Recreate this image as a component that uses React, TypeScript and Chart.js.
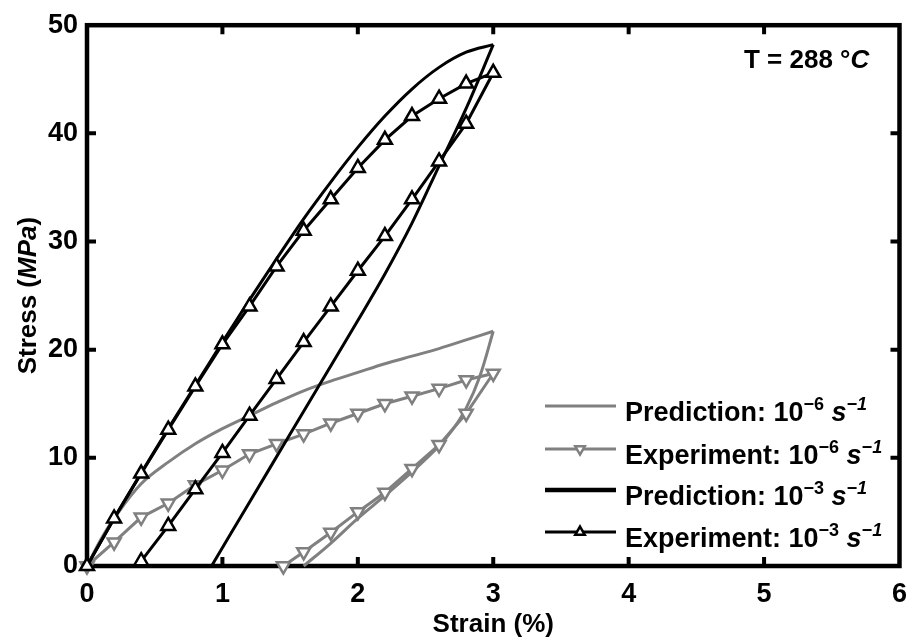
import React, { useEffect, useRef } from "react";
import { Chart, registerables } from "chart.js";

Chart.register(...registerables);

// ---------- data ----------
const xTickValues = [0, 1, 2, 3, 4, 5, 6];
const yTickValues = [0, 10, 20, 30, 40, 50];

// Prediction 10^-3 s^-1 (black)
const predFastLoadX = [0, 0.2, 0.4, 0.6, 0.8, 1.0, 1.2, 1.4, 1.6, 1.8, 2.0, 2.2, 2.4, 2.6, 2.8, 3.0];
const predFastLoadY = [0, 4.4, 8.6, 12.7, 16.7, 20.7, 24.6, 28.4, 32.1, 35.5, 38.7, 41.6, 44.1, 46.1, 47.5, 48.2];
const predFastUnloadX = [3.0, 2.8, 2.6, 2.4, 2.2, 2.0, 1.8, 1.5, 1.2, 0.92];
const predFastUnloadY = [48.2, 42.3, 37.0, 31.7, 27.0, 22.7, 18.5, 12.2, 5.9, 0];

// Experiment 10^-3 s^-1 (black, up triangles)
const expFastX = [0, 0.2, 0.4, 0.6, 0.8, 1.0, 1.2, 1.4, 1.6, 1.8, 2.0, 2.2, 2.4, 2.6, 2.8, 3.0,
  2.8, 2.6, 2.4, 2.2, 2.0, 1.8, 1.6, 1.4, 1.2, 1.0, 0.8, 0.6, 0.4];
const expFastY = [0, 4.4, 8.55, 12.6, 16.6, 20.5, 24.0, 27.7, 31.0, 33.9, 36.8, 39.4, 41.6, 43.2, 44.6, 45.6,
  40.9, 37.4, 33.9, 30.5, 27.3, 24.0, 20.7, 17.3, 13.9, 10.45, 7.1, 3.7, 0.45];

// Prediction 10^-6 s^-1 (gray)
const predSlowLoadX = [0, 0.1, 0.2, 0.4, 0.6, 0.8, 1.0, 1.2, 1.4, 1.6, 1.8, 2.0, 2.2, 2.4, 2.6, 2.8, 3.0];
const predSlowLoadY = [0, 2.4, 4.4, 7.6, 9.6, 11.3, 12.7, 13.9, 15.1, 16.2, 17.1, 17.9, 18.7, 19.4, 20.1, 20.9, 21.7];
const predSlowUnloadX = [3.0, 2.9, 2.8, 2.7, 2.6, 2.4, 2.2, 2.0, 1.8, 1.6];
const predSlowUnloadY = [21.7, 17.5, 14.6, 12.6, 11.1, 8.7, 6.5, 4.4, 2.1, 0];

// Experiment 10^-6 s^-1 (gray, down triangles)
const expSlowX = [0, 0.2, 0.4, 0.6, 0.8, 1.0, 1.2, 1.4, 1.6, 1.8, 2.0, 2.2, 2.4, 2.6, 2.8, 3.0,
  2.8, 2.6, 2.4, 2.2, 2.0, 1.8, 1.6, 1.45];
const expSlowY = [0, 2.2, 4.5, 5.8, 7.5, 8.85, 10.35, 11.3, 12.2, 13.2, 14.1, 15.0, 15.7, 16.4, 17.2, 17.8,
  14.1, 11.2, 9.0, 6.8, 5.0, 3.1, 1.3, 0];

const legendLabels = ["Prediction: 10", "Experiment: 10", "Prediction: 10", "Experiment: 10"];
const legendExponents = ["\u22126", "\u22126", "\u22123", "\u22123"];
const legendUnit = "s";
const legendUnitExponent = "\u22121";

const xTitle = "Strain (%)";
const yTitleParts = ["Stress (", "MPa", ")"];
const annotationParts = ["T = 288 \u00B0", "C"];

// ---------- styling ----------
const BLACK = "#000000";
const GRAY = "#808080";
const FAM = '"Liberation Sans", Arial, Helvetica, sans-serif';
const bold = (s: number) => `bold ${s}px ${FAM}`;
const boldItalic = (s: number) => `italic bold ${s}px ${FAM}`;

const toPts = (xs: number[], ys: number[]) => xs.map((x, i) => ({ x, y: ys[i] }));

type Run = { text: string; font: string; dy?: number };

function drawRuns(ctx: CanvasRenderingContext2D, runs: Run[], x: number, y: number, align: "left" | "center" = "left") {
  let total = 0;
  runs.forEach((r) => {
    ctx.font = r.font;
    total += ctx.measureText(r.text).width;
  });
  let cx = align === "center" ? x - total / 2 : x;
  ctx.textAlign = "left";
  ctx.textBaseline = "alphabetic";
  runs.forEach((r) => {
    ctx.font = r.font;
    ctx.fillText(r.text, cx, y + (r.dy || 0));
    cx += ctx.measureText(r.text).width;
  });
}

function triangle(ctx: CanvasRenderingContext2D, x: number, y: number, r: number, down: boolean) {
  const s = down ? -1 : 1;
  ctx.beginPath();
  ctx.moveTo(x, y - s * r);
  ctx.lineTo(x + r * Math.sin((2 * Math.PI) / 3), y - s * r * Math.cos((2 * Math.PI) / 3));
  ctx.lineTo(x - r * Math.sin((2 * Math.PI) / 3), y - s * r * Math.cos((2 * Math.PI) / 3));
  ctx.closePath();
  ctx.fillStyle = "#ffffff";
  ctx.fill();
  ctx.stroke();
}

const framePlugin = {
  id: "frameTicks",
  beforeDatasetsDraw(chart: any) {
    const { ctx, chartArea: a, scales } = chart;
    ctx.save();
    ctx.strokeStyle = BLACK;
    ctx.lineWidth = 4.5;
    ctx.strokeRect(a.left, a.top, a.right - a.left, a.bottom - a.top);
    ctx.lineWidth = 4;
    const tl = 9;
    xTickValues.slice(1, -1).forEach((v) => {
      const px = scales.x.getPixelForValue(v);
      ctx.beginPath();
      ctx.moveTo(px, a.bottom);
      ctx.lineTo(px, a.bottom - tl);
      ctx.moveTo(px, a.top);
      ctx.lineTo(px, a.top + tl);
      ctx.stroke();
    });
    yTickValues.slice(1, -1).forEach((v) => {
      const py = scales.y.getPixelForValue(v);
      ctx.beginPath();
      ctx.moveTo(a.left, py);
      ctx.lineTo(a.left + tl, py);
      ctx.moveTo(a.right, py);
      ctx.lineTo(a.right - tl, py);
      ctx.stroke();
    });
    ctx.restore();
  },
  afterDraw(chart: any) {
    const { ctx, chartArea: a } = chart;
    ctx.save();
    ctx.fillStyle = BLACK;

    // x title
    drawRuns(ctx, [{ text: xTitle, font: bold(26) }], (a.left + a.right) / 2, 632, "center");

    // y title
    ctx.save();
    ctx.translate(26, (a.top + a.bottom) / 2);
    ctx.rotate(-Math.PI / 2);
    drawRuns(
      ctx,
      [
        { text: yTitleParts[0], font: bold(26) },
        { text: yTitleParts[1], font: boldItalic(26) },
        { text: yTitleParts[2], font: bold(26) },
      ],
      0,
      10,
      "center"
    );
    ctx.restore();

    // annotation
    drawRuns(
      ctx,
      [
        { text: annotationParts[0], font: bold(26) },
        { text: annotationParts[1], font: boldItalic(26) },
      ],
      744,
      68
    );

    // legend
    const rowY = [406, 449, 490, 532];
    const colors = [GRAY, GRAY, BLACK, BLACK];
    const widths = [3, 3, 4.5, 3];
    const markers = [0, -1, 0, 1];
    legendLabels.forEach((lab, i) => {
      const y = rowY[i];
      ctx.strokeStyle = colors[i];
      ctx.lineWidth = widths[i];
      ctx.beginPath();
      ctx.moveTo(545, y);
      ctx.lineTo(616, y);
      ctx.stroke();
      if (markers[i] !== 0) {
        ctx.lineWidth = 2.5;
        triangle(ctx, 580, y, 5.5, markers[i] < 0);
      }
      ctx.fillStyle = BLACK;
      drawRuns(
        ctx,
        [
          { text: lab, font: bold(27) },
          { text: legendExponents[i], font: bold(18), dy: -11 },
          { text: " ", font: bold(27) },
          { text: legendUnit, font: boldItalic(27) },
          { text: legendUnitExponent, font: boldItalic(18), dy: -11 },
        ],
        625,
        y + 15
      );
    });
    ctx.restore();
  },
};

export default function App() {
  const canvasRef = useRef<HTMLCanvasElement | null>(null);

  useEffect(() => {
    document.body.style.margin = "0";
    const canvas = canvasRef.current;
    if (!canvas) return;

    const lineBase = { showLine: true, clip: false as any, fill: false };

    const chart = new Chart(canvas, {
      type: "scatter",
      data: {
        datasets: [
          {
            ...lineBase,
            label: "Experiment: 10^-3",
            data: toPts(expFastX, expFastY),
            borderColor: BLACK,
            borderWidth: 3,
            tension: 0,
            pointStyle: "triangle",
            pointRadius: 8,
            pointBorderWidth: 2.5,
            pointBorderColor: BLACK,
            pointBackgroundColor: "#ffffff",
          },
          {
            ...lineBase,
            label: "Prediction: 10^-3 load",
            data: toPts(predFastLoadX, predFastLoadY),
            borderColor: BLACK,
            borderWidth: 3,
            tension: 0.35,
            pointRadius: 0,
          },
          {
            ...lineBase,
            label: "Prediction: 10^-3 unload",
            data: toPts(predFastUnloadX, predFastUnloadY),
            borderColor: BLACK,
            borderWidth: 3,
            tension: 0.35,
            pointRadius: 0,
          },
          {
            ...lineBase,
            label: "Experiment: 10^-6",
            data: toPts(expSlowX, expSlowY),
            borderColor: GRAY,
            borderWidth: 3,
            tension: 0,
            pointStyle: "triangle",
            rotation: 180,
            pointRadius: 7.5,
            pointBorderWidth: 2.5,
            pointBorderColor: GRAY,
            pointBackgroundColor: "#ffffff",
          },
          {
            ...lineBase,
            label: "Prediction: 10^-6 load",
            data: toPts(predSlowLoadX, predSlowLoadY),
            borderColor: GRAY,
            borderWidth: 3,
            tension: 0.35,
            pointRadius: 0,
          },
          {
            ...lineBase,
            label: "Prediction: 10^-6 unload",
            data: toPts(predSlowUnloadX, predSlowUnloadY),
            borderColor: GRAY,
            borderWidth: 3,
            tension: 0.35,
            pointRadius: 0,
          },
        ] as any,
      },
      options: {
        animation: false,
        responsive: false,
        devicePixelRatio: 1,
        layout: { padding: { top: 15, right: 11, left: 0, bottom: 0 } },
        plugins: {
          legend: { display: false },
          tooltip: { enabled: false },
        },
        scales: {
          x: {
            type: "linear",
            min: xTickValues[0],
            max: xTickValues[xTickValues.length - 1],
            afterBuildTicks: (scale: any) => {
              scale.ticks = xTickValues.map((v) => ({ value: v }));
            },
            afterFit: (scale: any) => {
              scale.height = 77;
            },
            grid: { display: false, drawTicks: false },
            border: { display: false },
            ticks: {
              padding: 12,
              color: BLACK,
              font: { family: FAM, size: 27, weight: "bold" },
              callback: (v: any) => String(v),
            },
          },
          y: {
            type: "linear",
            min: yTickValues[0],
            max: yTickValues[yTickValues.length - 1],
            afterBuildTicks: (scale: any) => {
              scale.ticks = yTickValues.map((v) => ({ value: v }));
            },
            afterFit: (scale: any) => {
              scale.width = 87;
            },
            grid: { display: false, drawTicks: false },
            border: { display: false },
            ticks: {
              padding: 9,
              color: BLACK,
              font: { family: FAM, size: 27, weight: "bold" },
              callback: (v: any) => String(v),
            },
          },
        },
      } as any,
      plugins: [framePlugin as any],
    });

    return () => chart.destroy();
  }, []);

  return (
    <div style={{ width: 919, height: 643, background: "#ffffff" }}>
      <canvas ref={canvasRef} width={919} height={643} style={{ display: "block" }} />
    </div>
  );
}
